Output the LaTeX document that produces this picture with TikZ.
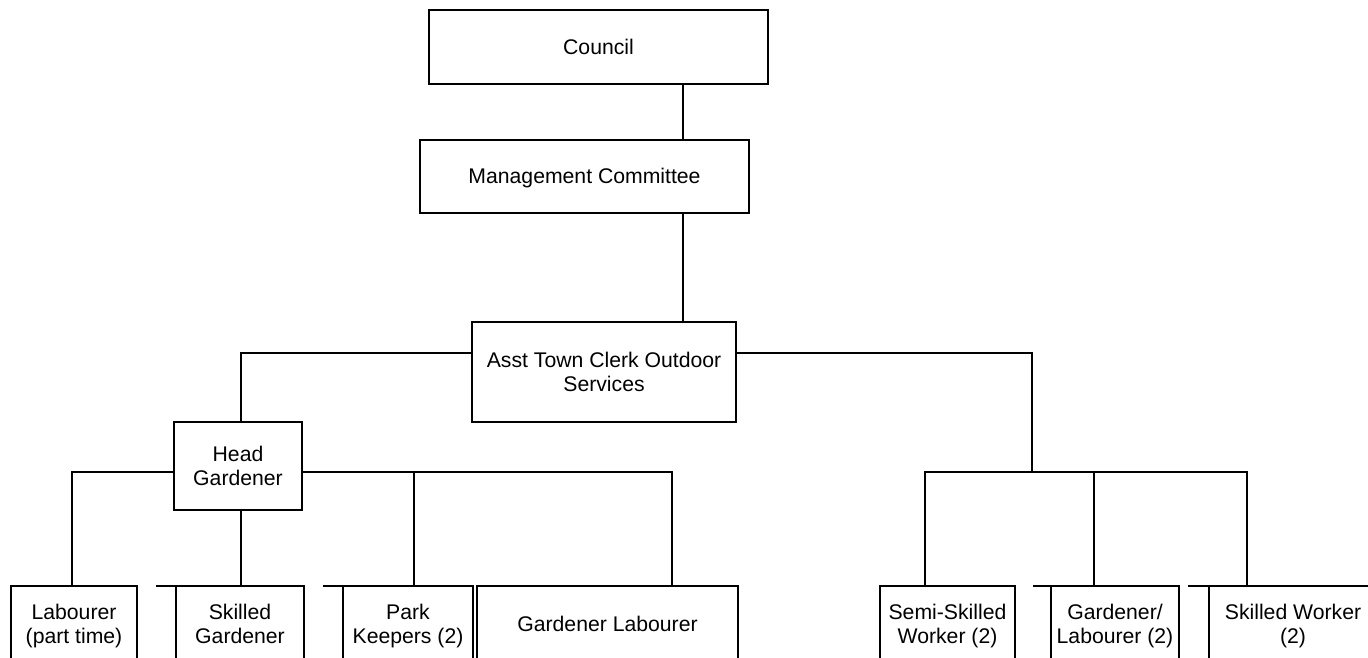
\documentclass[tikz,border=0pt]{standalone}
\usepackage{fontspec}
\setmainfont{Liberation Sans}
\begin{document}
\begin{tikzpicture}[x=1pt,y=-1pt,
  orgbox/.style={draw=black,line width=2pt,rectangle,inner sep=0pt,outer sep=0pt,
    align=center,font=\fontsize{21.2}{23.5}\selectfont},
  link/.style={draw=black,line width=2pt,line cap=rect}]
\newcommand{\orgnode}[6]{%
  \node[orgbox,minimum width={#4-#2},minimum height={#5-#3}] (#1) at ({(#2+#4)/2},{(#3+#5)/2}) {\rule{0pt}{22pt}#6\strut};}
\fill[white] (0,0) rectangle (1368,658);
\useasboundingbox (0,0) rectangle (1368,658);
\begin{scope}
\clip (0,0) rectangle (1368,658);
% boxes
\orgnode{council}{429}{10}{768}{84}{Council}
\orgnode{mgmt}{420}{140}{749}{213}{Management Committee}
\orgnode{asst}{472}{322}{736}{422}{Asst Town Clerk Outdoor\\Services}
\orgnode{hg}{174}{422}{302}{510}{Head\\Gardener}
\orgnode{lab}{11}{586}{137}{662}{Labourer\\(part time)}
\orgnode{sg}{176}{586}{304}{662}{Skilled\\Gardener}
\orgnode{pk}{343}{586}{473}{662}{Park\\Keepers (2)}
\orgnode{gl}{477}{586}{738}{662}{Gardener Labourer}
\orgnode{ssw}{880}{586}{1015}{662}{Semi-Skilled\\Worker (2)}
\orgnode{gl2}{1051}{586}{1179}{662}{Gardener/\\Labourer (2)}
\orgnode{sw}{1209}{586}{1377}{662}{Skilled Worker\\(2)}
% junction coordinates
\coordinate (xa) at (683,0);
\coordinate (ja) at (241,353);
\coordinate (jb) at (1032,353);
\coordinate (hl) at (72,472);
\coordinate (hr) at (672,472);
\coordinate (hp) at (414,472);
\coordinate (rl) at (925,472);
\coordinate (rm) at (1094,472);
\coordinate (rr) at (1247,472);
\coordinate (sgx) at (157,586);
\coordinate (pkx) at (324,586);
\coordinate (gl2x) at (1034,586);
\coordinate (swx) at (1189,586);
% connectors
\draw[link] (council.south -| xa) -- (mgmt.north -| xa);
\draw[link] (mgmt.south -| xa) -- (asst.north -| xa);
\draw[link] (asst.west |- ja) -- (ja) -- (ja |- hg.north);
\draw[link] (asst.east |- jb) -- (jb) -- (jb |- rl);
\draw[link] (hg.west |- hl) -- (hl) -- (hl |- lab.north);
\draw[link] (hg.east |- hr) -- (hr) -- (hr |- gl.north);
\draw[link] (hp) -- (hp |- pk.north);
\draw[link] (hg.south -| ja) -- (sg.north -| ja);
\draw[link] (rl |- ssw.north) -- (rl) -- (rr) -- (rr |- sw.north);
\draw[link] (rm) -- (rm |- gl2.north);
\draw[link] (sgx) -- (sg.north west);
\draw[link] (pkx) -- (pk.north west);
\draw[link] (gl2x) -- (gl2.north west);
\draw[link] (swx) -- (sw.north west);
\end{scope}
\end{tikzpicture}
\end{document}
